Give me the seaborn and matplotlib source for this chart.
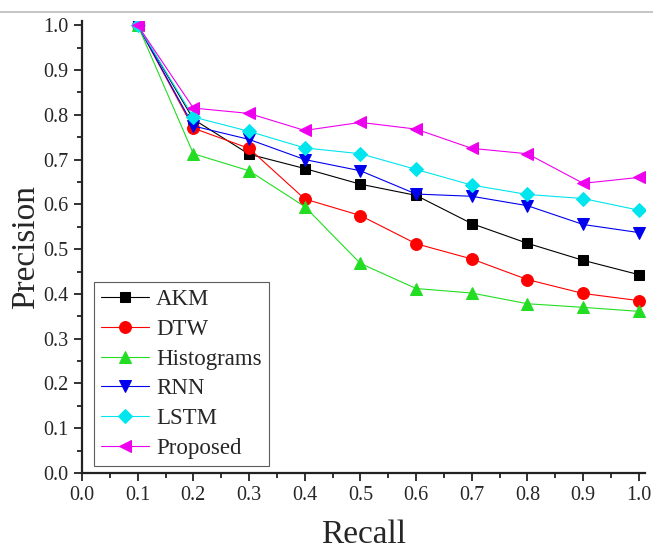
import numpy as np
import pandas as pd
import matplotlib
matplotlib.use("Agg")
import matplotlib.pyplot as plt
import seaborn as sns
from matplotlib.ticker import MultipleLocator

recall = [0.1, 0.2, 0.3, 0.4, 0.5, 0.6, 0.7, 0.8, 0.9, 1.0]

akm = [1.0, 0.790, 0.712, 0.680, 0.645, 0.620, 0.557, 0.513, 0.475, 0.443]
dtw = [1.0, 0.770, 0.725, 0.612, 0.575, 0.512, 0.478, 0.432, 0.401, 0.385]
histograms = [1.0, 0.713, 0.675, 0.595, 0.468, 0.412, 0.402, 0.378, 0.370, 0.361]
rnn = [1.0, 0.775, 0.745, 0.700, 0.675, 0.623, 0.618, 0.597, 0.555, 0.537]
lstm = [1.0, 0.795, 0.763, 0.726, 0.713, 0.678, 0.643, 0.622, 0.613, 0.587]
proposed = [1.0, 0.815, 0.803, 0.765, 0.783, 0.768, 0.725, 0.713, 0.647, 0.660]

methods = ["AKM", "DTW", "Histograms", "RNN", "LSTM", "Proposed"]
colors = ["#000000", "#ff0000", "#22dd22", "#0000ee", "#00e5ee", "#ee00ee"]
markers = ["s", "o", "^", "v", "D", "<"]
msizes = [7.5, 8.5, 8.5, 8.5, 7.5, 8.5]


def main():
    sns.set_style("ticks")
    plt.rcParams["font.family"] = ["Liberation Serif", "DejaVu Serif"]

    fig = plt.figure(figsize=(6.53, 5.49), dpi=100)
    ax = fig.add_axes([0.1256, 0.1384, 0.862, 0.823])

    series = [akm, dtw, histograms, rnn, lstm, proposed]
    for name, vals, c, m, ms in zip(methods, series, colors, markers, msizes):
        df = pd.DataFrame({"Recall": recall, "Precision": vals})
        sns.lineplot(data=df, x="Recall", y="Precision", ax=ax, color=c,
                     marker=m, markersize=ms, markeredgecolor=c,
                     linewidth=0.8, label=name)

    ax.set_xlim(0, 1.011)
    ax.set_ylim(0, 1.009)
    ax.xaxis.set_major_locator(MultipleLocator(0.1))
    ax.xaxis.set_minor_locator(MultipleLocator(0.05))
    ax.yaxis.set_major_locator(MultipleLocator(0.1))
    ax.yaxis.set_minor_locator(MultipleLocator(0.05))
    ax.xaxis.set_major_formatter(matplotlib.ticker.FormatStrFormatter("%.1f"))
    ax.yaxis.set_major_formatter(matplotlib.ticker.FormatStrFormatter("%.1f"))
    ax.tick_params(which="major", length=6, width=1.3, labelsize=14.5, color="#222222")
    ax.tick_params(which="minor", length=3.5, width=1.3, color="#222222")
    sns.despine(ax=ax)
    for s in ["left", "bottom"]:
        ax.spines[s].set_linewidth(1.6)
        ax.spines[s].set_color("#222222")

    ax.set_xlabel("Recall", fontsize=24, labelpad=10)
    ax.set_ylabel("Precision", fontsize=24, labelpad=2)

    leg = ax.legend(loc="lower left", bbox_to_anchor=(0.022, 0.016), fontsize=16.5,
                    frameon=True, fancybox=False, edgecolor="#333333",
                    handlelength=2.1, handletextpad=0.3, labelspacing=0.38,
                    borderpad=0.3, borderaxespad=0)
    leg.get_frame().set_linewidth(0.8)

    fig.add_artist(plt.Line2D([0, 1], [0.978, 0.978], color="#bbbbbb", linewidth=1.2,
                              transform=fig.transFigure))

    fig.savefig("out.png", dpi=100)


if __name__ == '__main__':
    main()
